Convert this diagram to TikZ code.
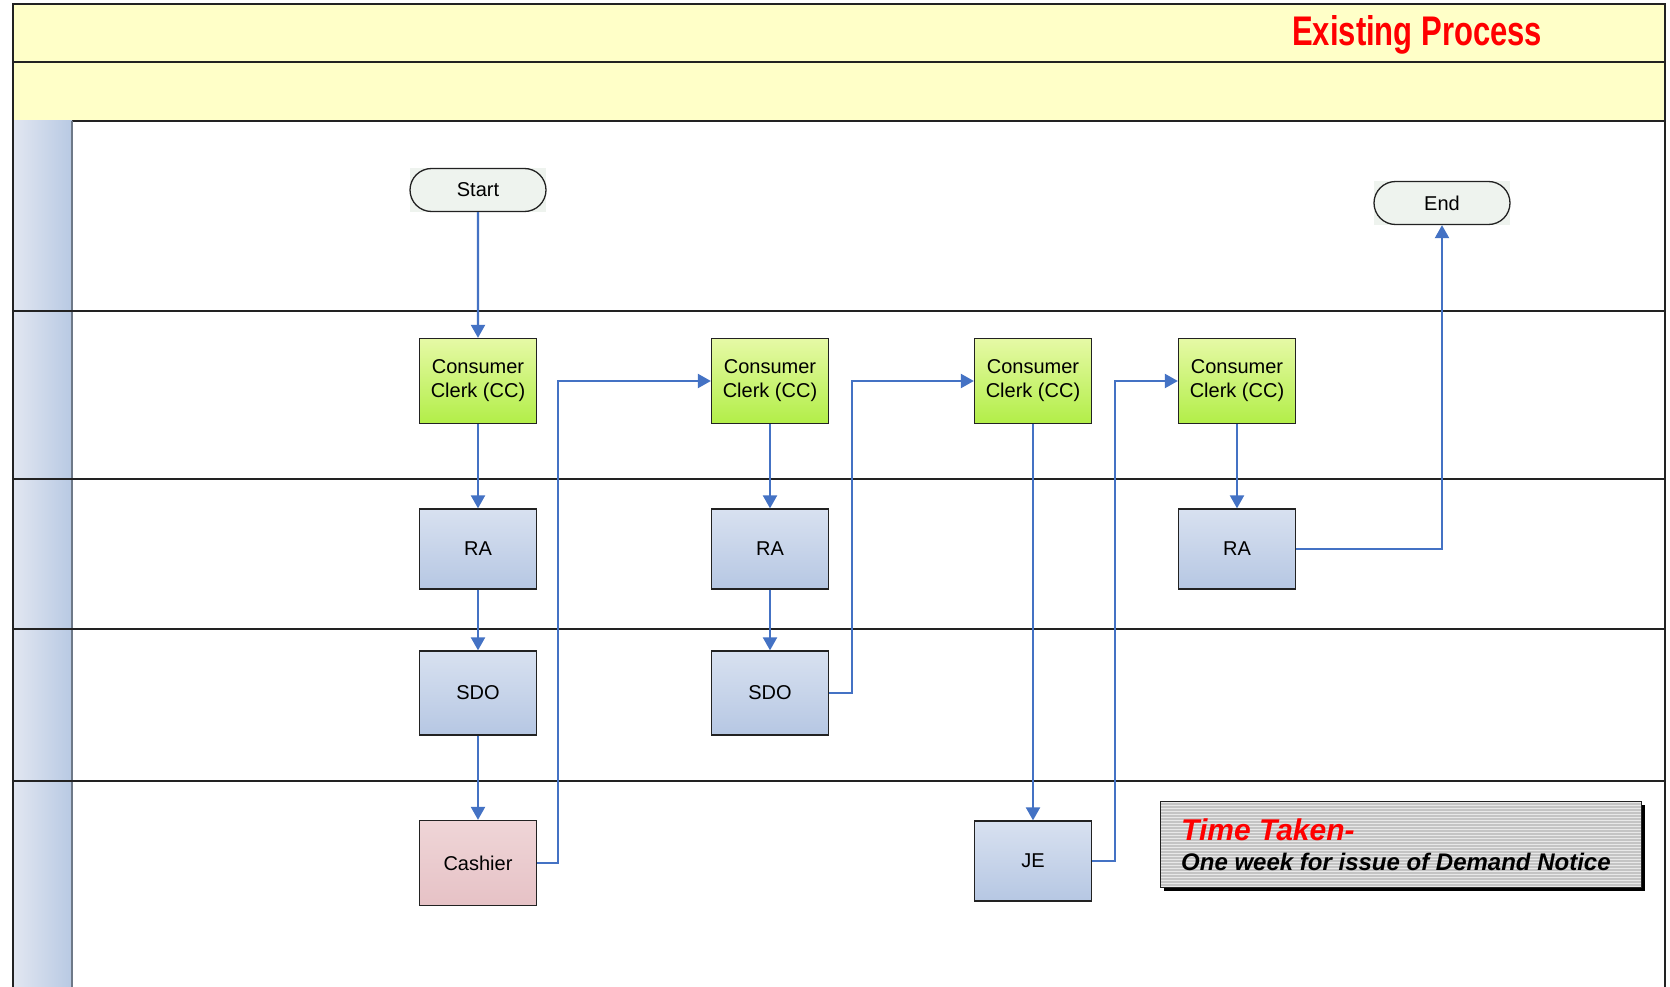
\documentclass[tikz,border=0pt]{standalone}
\usepackage{fontspec}
\setmainfont{Liberation Sans}
\usetikzlibrary{arrows.meta,shapes.misc}

\definecolor{bandfill}{HTML}{FFFFC8}
\definecolor{framec}{HTML}{222222}
\definecolor{flowc}{HTML}{4472C4}
\definecolor{hdrL}{HTML}{E2E7F1}
\definecolor{hdrR}{HTML}{B8C9E3}
\definecolor{ccT}{HTML}{E6F9A6}
\definecolor{ccB}{HTML}{B2EE48}
\definecolor{blT}{HTML}{D8E1F0}
\definecolor{blB}{HTML}{B6C7E3}
\definecolor{pkT}{HTML}{EFD5D7}
\definecolor{pkB}{HTML}{E6C2C6}
\definecolor{termfill}{HTML}{EEF3EE}
\definecolor{stripeA}{HTML}{C4C4C4}
\definecolor{stripeB}{HTML}{E8E8E8}

\tikzset{
  every node/.style={font=\fontsize{20}{24}\selectfont, text=black},
  procbox/.style={draw=framec, line width=1.3pt, minimum width=117pt, align=center, inner sep=0pt},
  ccbox/.style={procbox, top color=ccT, bottom color=ccB, minimum height=85pt},
  bluebox/.style={procbox, top color=blT, bottom color=blB},
  pinkbox/.style={procbox, top color=pkT, bottom color=pkB, minimum height=85pt},
  termbox/.style={rounded rectangle, draw=framec, line width=1.3pt, fill=termfill, minimum width=136pt, minimum height=43pt, inner sep=0pt},
  flow/.style={draw=flowc, line width=2.2pt, -{Triangle[width=14pt,length=13pt]}},
  lanerule/.style={draw=framec, line width=1.5pt},
}

\begin{document}
\begin{tikzpicture}[x=1pt,y=-1pt]
\useasboundingbox (0,0) rectangle (1670,987);
\fill[white] (0,0) rectangle (1670,987);

% title bands
\fill[bandfill] (13,4) rectangle (1665,121);
\draw[framec, line width=2pt] (13,62) -- (1665,62);
\draw[framec, line width=2pt] (13,121) -- (1665,121);

% lane headers
\shade[left color=hdrL, right color=hdrR] (13,121) rectangle (72,987);
\draw[draw=hdrR!60!black, line width=1.5pt] (72,121) -- (72,987);

% lane boundaries
\foreach \yy in {311,479,629,781}
  \draw[lanerule] (13,\yy) -- (1665,\yy);

% outer frame
\draw[framec, line width=2pt] (13,987) -- (13,4) -- (1665,4) -- (1665,987);

% title
\node[anchor=base west, inner sep=0pt, text=red] (title) at (1292,46)
  {\resizebox{250pt}{30pt}{\bfseries Existing Process}};

% terminators
\fill[termfill] (410,168) rectangle (546,212);
\node[termbox] (start) at (478,190) {Start};
\fill[termfill] (1374,181) rectangle (1510,225);
\node[termbox] (end) at (1442,203) {End};

% process boxes
\node[ccbox] (cc1) at (478,381) {Consumer\\Clerk (CC)};
\node[ccbox] (cc2) at (770,381) {Consumer\\Clerk (CC)};
\node[ccbox] (cc3) at (1033,381) {Consumer\\Clerk (CC)};
\node[ccbox] (cc4) at (1237,381) {Consumer\\Clerk (CC)};

\node[bluebox, minimum height=80pt] (ra1) at (478,549) {RA};
\node[bluebox, minimum height=80pt] (ra2) at (770,549) {RA};
\node[bluebox, minimum height=80pt] (ra4) at (1237,549) {RA};

\node[bluebox, minimum height=84pt] (sdo1) at (478,693) {SDO};
\node[bluebox, minimum height=84pt] (sdo2) at (770,693) {SDO};

\node[pinkbox] (cash) at (478,863) {Cashier};
\node[bluebox, minimum height=80pt] (je) at (1033,861) {JE};

% flow connectors
\draw[flow] (start) -- (cc1);
\draw[flow] (cc1) -- (ra1);
\draw[flow] (ra1) -- (sdo1);
\draw[flow] (sdo1) -- (cash);
\draw[flow] (cash.east) -- ++(21,0) |- (cc2.west);
\draw[flow] (cc2) -- (ra2);
\draw[flow] (ra2) -- (sdo2);
\draw[flow] (sdo2.east) -- ++(23,0) |- (cc3.west);
\draw[flow] (cc3) -- (je);
\draw[flow] (je.east) -- ++(23,0) |- (cc4.west);
\draw[flow] (cc4) -- (ra4);
\draw[flow] (ra4.east) -| (end.south);

% time note
\fill[black] (1164,805) rectangle (1645,891);
\fill[stripeA] (1160,801) rectangle (1641,887);
\foreach \k in {0,...,28}
  \draw[stripeB, line width=1pt] (1160,{802.5+3*\k}) -- (1641,{802.5+3*\k});
\draw[framec, line width=1pt] (1160,801) rectangle (1641,887);
\node[anchor=base west, inner sep=0pt, text=red, font=\fontsize{30}{30}\selectfont\bfseries\itshape] (tt) at (1181,840) {Time Taken-};
\node[anchor=base west, inner sep=0pt, font=\fontsize{24}{24}\selectfont\bfseries\itshape] (tn) at (1181,870) {One week for issue of Demand Notice};
\end{tikzpicture}
\end{document}
